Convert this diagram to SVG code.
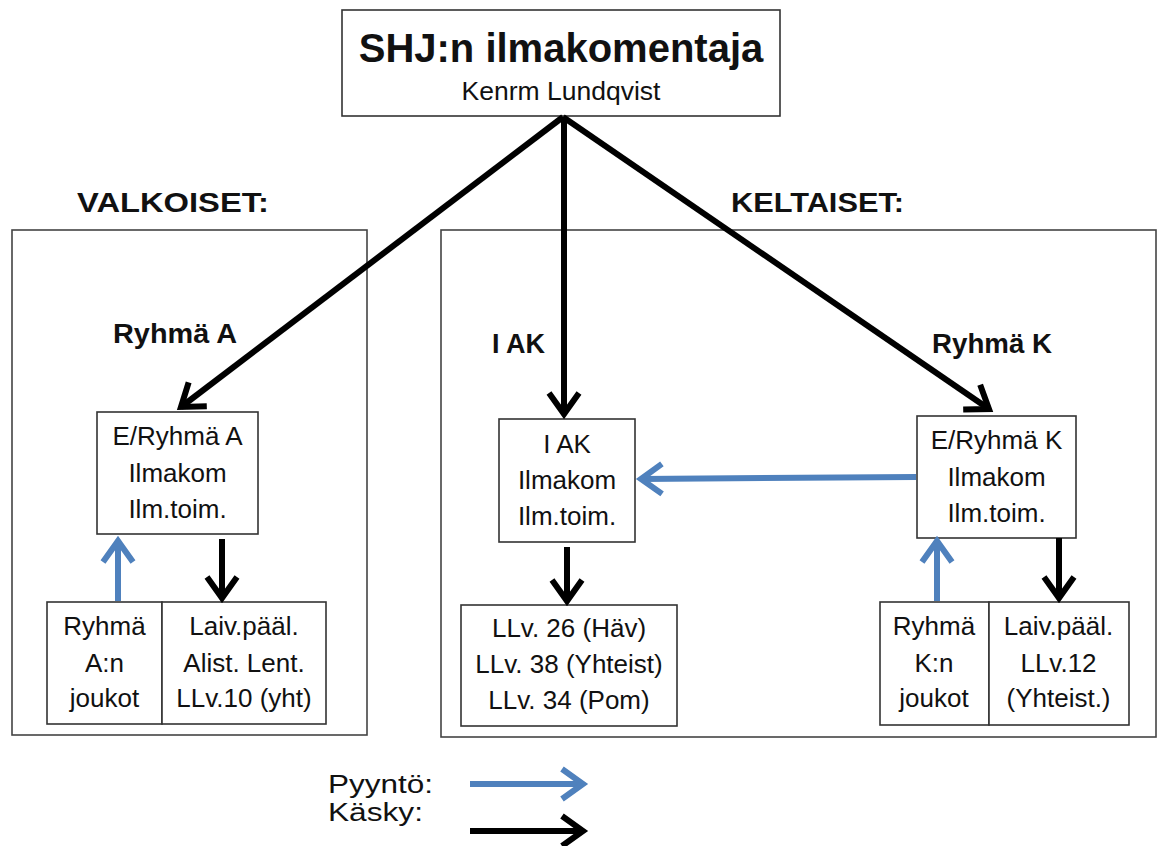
<svg xmlns="http://www.w3.org/2000/svg" width="1157" height="846" viewBox="0 0 1157 846">
<defs>
<style>
.box{fill:#fff;stroke:#333;stroke-width:1.6}
.outer{fill:none;stroke:#444;stroke-width:1.6}
text{font-family:"Liberation Sans",Arial,sans-serif;fill:#111}
.t{font-size:26px;text-anchor:middle}
.h{font-size:28px;font-weight:bold}
.l{font-size:27px;font-weight:bold}
.cmd{stroke:#000;stroke-width:6;fill:none}
.req{stroke:#4F81BD;stroke-width:6;fill:none}
</style>
<marker id="ak" markerUnits="userSpaceOnUse" viewBox="-28 -18 34 36" markerWidth="34" markerHeight="36" refX="0" refY="0" orient="auto" overflow="visible">
<path d="M -21 -15 L 0 0 L -21 15" fill="none" stroke="#000" stroke-width="6"/>
</marker>
<marker id="ab" markerUnits="userSpaceOnUse" viewBox="-28 -18 34 36" markerWidth="34" markerHeight="36" refX="0" refY="0" orient="auto" overflow="visible">
<path d="M -21 -15 L 0 0 L -21 15" fill="none" stroke="#4F81BD" stroke-width="6"/>
</marker>
</defs>
<rect width="1157" height="846" fill="#fff"/>

<g id="valkoiset">
<rect class="outer" x="12" y="230" width="355" height="505"/>
<text class="h" x="77" y="212" textLength="192" lengthAdjust="spacingAndGlyphs">VALKOISET:</text>
</g>
<g id="keltaiset">
<rect class="outer" x="441" y="230" width="715" height="507"/>
<text class="h" x="731" y="212" textLength="173" lengthAdjust="spacingAndGlyphs">KELTAISET:</text>
</g>

<g id="top">
<rect class="box" x="342" y="10" width="438" height="106"/>
<text x="561" y="62" font-size="40" font-weight="bold" text-anchor="middle">SHJ:n ilmakomentaja</text>
<text x="561" y="100" font-size="26.5" text-anchor="middle">Kenrm Lundqvist</text>
</g>

<g id="labels">
<text class="l" x="113" y="343" textLength="124" lengthAdjust="spacingAndGlyphs">Ryhmä A</text>
<text class="l" x="492" y="353" textLength="53" lengthAdjust="spacingAndGlyphs">I AK</text>
<text class="l" x="932" y="353" textLength="120" lengthAdjust="spacingAndGlyphs">Ryhmä K</text>
</g>

<g id="eryhmaA">
<rect class="box" x="97" y="412" width="161" height="122"/>
<text class="t" x="177.5" y="445">E/Ryhmä A</text>
<text class="t" x="177.5" y="482">Ilmakom</text>
<text class="t" x="177.5" y="518">Ilm.toim.</text>
</g>
<g id="joukotA">
<rect class="box" x="47" y="602" width="115" height="122"/>
<text class="t" x="104.5" y="635">Ryhmä</text>
<text class="t" x="104.5" y="672">A:n</text>
<text class="t" x="104.5" y="707">joukot</text>
</g>
<g id="laivA">
<rect class="box" x="162" y="602" width="164" height="122"/>
<text class="t" x="244" y="635">Laiv.pääl.</text>
<text class="t" x="244" y="672">Alist. Lent.</text>
<text class="t" x="244" y="707">LLv.10 (yht)</text>
</g>

<g id="iak">
<rect class="box" x="499" y="419" width="136" height="123"/>
<text class="t" x="567" y="453">I AK</text>
<text class="t" x="567" y="489">Ilmakom</text>
<text class="t" x="567" y="525">Ilm.toim.</text>
</g>
<g id="llv">
<rect class="box" x="461" y="605" width="216" height="121"/>
<text class="t" x="569" y="637">LLv. 26 (Häv)</text>
<text class="t" x="569" y="673">LLv. 38 (Yhteist)</text>
<text class="t" x="569" y="709">LLv. 34 (Pom)</text>
</g>

<g id="eryhmaK">
<rect class="box" x="917" y="416" width="159" height="122"/>
<text class="t" x="996.5" y="449">E/Ryhmä K</text>
<text class="t" x="996.5" y="486">Ilmakom</text>
<text class="t" x="996.5" y="522">Ilm.toim.</text>
</g>
<g id="joukotK">
<rect class="box" x="880" y="602" width="109" height="123"/>
<text class="t" x="934" y="635">Ryhmä</text>
<text class="t" x="934" y="672">K:n</text>
<text class="t" x="934" y="707">joukot</text>
</g>
<g id="laivK">
<rect class="box" x="989" y="602" width="140" height="123"/>
<text class="t" x="1058.5" y="635">Laiv.pääl.</text>
<text class="t" x="1058.5" y="672">LLv.12</text>
<text class="t" x="1058.5" y="707">(Yhteist.)</text>
</g>

<g id="connectors">
<line class="cmd" x1="563" y1="117" x2="181" y2="407" marker-end="url(#ak)"/>
<line class="cmd" x1="564" y1="117" x2="564" y2="414" marker-end="url(#ak)"/>
<line class="cmd" x1="563" y1="117" x2="989" y2="409" marker-end="url(#ak)"/>
<line class="req" x1="916" y1="477" x2="641" y2="479" marker-end="url(#ab)"/>
<line class="req" x1="118" y1="601" x2="118" y2="541" marker-end="url(#ab)"/>
<line class="cmd" x1="222" y1="539" x2="222" y2="598" marker-end="url(#ak)"/>
<line class="cmd" x1="567" y1="547" x2="567" y2="601" marker-end="url(#ak)"/>
<line class="req" x1="937" y1="601" x2="937" y2="541" marker-end="url(#ab)"/>
<line class="cmd" x1="1059" y1="538" x2="1059" y2="598" marker-end="url(#ak)"/>
</g>

<g id="legend">
<text x="328" y="793" font-size="26" textLength="105" lengthAdjust="spacingAndGlyphs">Pyyntö:</text>
<text x="328" y="821" font-size="26" textLength="95" lengthAdjust="spacingAndGlyphs">Käsky:</text>
<line class="req" x1="470" y1="784" x2="583" y2="784" marker-end="url(#ab)"/>
<line class="cmd" x1="470" y1="831" x2="583" y2="831" marker-end="url(#ak)"/>
</g>
</svg>
